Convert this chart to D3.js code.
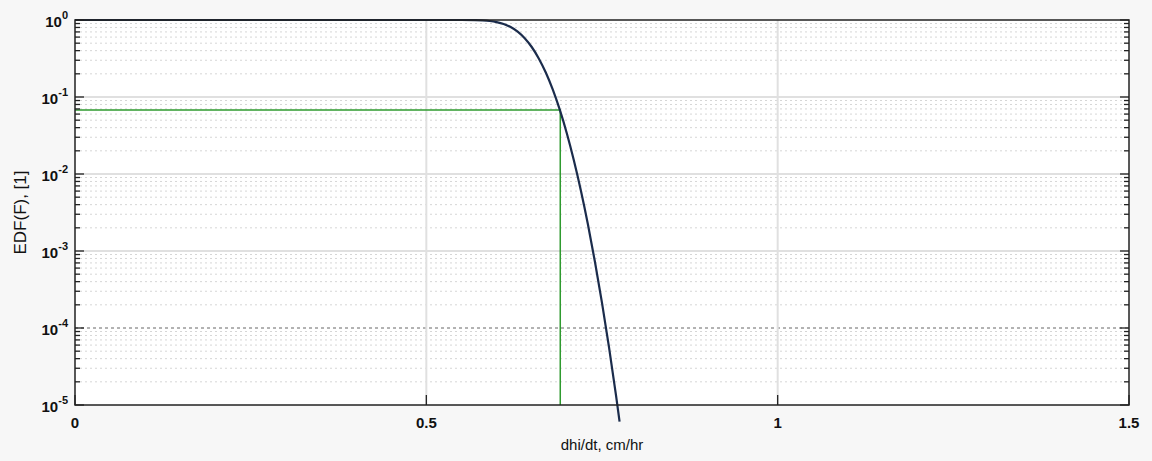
<!DOCTYPE html>
<html><head><meta charset="utf-8">
<script src="https://cdn.jsdelivr.net/npm/d3@7"></script>
<style>body{margin:0;background:#f7f7f7;}svg{display:block;}</style>
</head><body>
<svg id="c" width="1152" height="461"></svg>
<script>
// data
const curveX = [0, 0.5, 0.55, 0.57, 0.58, 0.59, 0.60, 0.61, 0.62, 0.63, 0.64, 0.65, 0.66, 0.67, 0.68, 0.69, 0.70, 0.71, 0.72, 0.73, 0.74, 0.75, 0.76, 0.77, 0.775];
const curveY = [1, 1, 0.9994, 0.995, 0.987, 0.971, 0.940, 0.889, 0.811, 0.706, 0.580, 0.446, 0.317, 0.208, 0.1245, 0.0679, 0.0336, 0.0150, 0.00607, 0.00221, 0.00072, 0.000212, 0.000056, 0.0000132, 0.0000061];
const markX = 0.6906;
const markY = 0.0678;
const xTicks = [0, 0.5, 1, 1.5];
const xTickLabels = ["0", "0.5", "1", "1.5"];
const yDecades = [0, -1, -2, -3, -4, -5];
const xLabel = "dhi/dt, cm/hr";
const yLabel = "EDF(F), [1]";

const svg = d3.select("#c");
const L = 75, R = 1129, T = 20, B = 405;
const x = d3.scaleLinear().domain([0, 1.5]).range([L, R]);
const y = d3.scaleLog().domain([1e-5, 1]).range([B, T]);

svg.append("rect").attr("x", 0).attr("y", 0).attr("width", 1152).attr("height", 461).attr("fill", "#f7f7f7");
svg.append("rect").attr("x", L).attr("y", T).attr("width", R - L).attr("height", B - T).attr("fill", "#fff");

// minor y grid
const minors = [];
yDecades.slice(1).forEach(d => { for (let k = 2; k <= 9; k++) minors.push(k * Math.pow(10, d)); });
const g = svg.append("g");
g.selectAll(".ymin").data(minors).join("line")
  .attr("x1", L).attr("x2", R).attr("y1", d => y(d)).attr("y2", d => y(d))
  .attr("stroke", "#d6d6d6").attr("stroke-width", 1).attr("stroke-dasharray", "2,3");
// major y grid
g.selectAll(".ymaj").data(yDecades.slice(1, -1)).join("line")
  .attr("x1", L).attr("x2", R).attr("y1", d => y(Math.pow(10, d))).attr("y2", d => y(Math.pow(10, d)))
  .attr("stroke", d => d === -4 ? "#666" : "#e0e0e0")
  .attr("stroke-width", d => d === -4 ? 1 : 2)
  .attr("stroke-dasharray", d => d === -4 ? "3,3" : null);
// major x grid
g.selectAll(".xmaj").data(xTicks.slice(1, -1)).join("line")
  .attr("x1", d => x(d)).attr("x2", d => x(d)).attr("y1", T).attr("y2", B)
  .attr("stroke", "#e0e0e0").attr("stroke-width", 2);

// green marker lines
svg.append("path")
  .attr("d", d3.line()([[x(0), y(markY)], [x(markX), y(markY)], [x(markX), y(1e-5)]]))
  .attr("fill", "none").attr("stroke", "#2f9a2f").attr("stroke-width", 1.5);

// curve
const pts = curveX.map((v, i) => [v, curveY[i]]);
svg.append("path")
  .attr("d", d3.line().x(d => x(d[0])).y(d => y(d[1])).curve(d3.curveMonotoneX)(pts))
  .attr("fill", "none").attr("stroke", "#1b2c4c").attr("stroke-width", 2.2);

// ticks
const tk = svg.append("g").attr("stroke", "#222").attr("stroke-width", 1.3);
const allY = yDecades.map(d => Math.pow(10, d));
[L, R].forEach((xx, side) => {
  const dir = side === 0 ? 1 : -1;
  tk.selectAll(null).data(allY).join("line")
    .attr("x1", xx).attr("x2", xx + dir * 9).attr("y1", d => y(d)).attr("y2", d => y(d));
  tk.selectAll(null).data(minors).join("line")
    .attr("x1", xx).attr("x2", xx + dir * 5).attr("y1", d => y(d)).attr("y2", d => y(d));
});
tk.selectAll(null).data(xTicks).join("line")
  .attr("x1", d => x(d)).attr("x2", d => x(d)).attr("y1", B).attr("y2", B - 10);

// box
svg.append("rect").attr("x", L).attr("y", T).attr("width", R - L).attr("height", B - T)
  .attr("fill", "none").attr("stroke", "#222").attr("stroke-width", 1.5);

const font = "Liberation Sans, Arial, Helvetica, sans-serif";
// y tick labels
const yl = svg.append("g").attr("font-family", font).attr("fill", "#111").attr("font-weight", "bold");
yDecades.forEach(d => {
  const t = yl.append("text").attr("x", 68).attr("y", y(Math.pow(10, d)) + 7).attr("text-anchor", "end");
  t.append("tspan").attr("font-size", 15).text("10");
  t.append("tspan").attr("font-size", 11).attr("dy", -8).text(String(d));
});
// x tick labels
svg.append("g").attr("font-family", font).attr("font-size", 15).attr("font-weight", "bold").attr("fill", "#111")
  .selectAll("text").data(xTicks).join("text")
  .attr("x", d => x(d)).attr("y", 428).attr("text-anchor", "middle")
  .text((d, i) => xTickLabels[i]);
// axis labels
svg.append("text").attr("x", x(0.75)).attr("y", 450).attr("text-anchor", "middle")
  .attr("font-family", font).attr("font-size", 15).attr("fill", "#111").text(xLabel);
svg.append("text").attr("transform", "translate(26," + ((T + B) / 2) + ") rotate(-90)")
  .attr("text-anchor", "middle").attr("font-family", font).attr("font-size", 17).attr("fill", "#111").text(yLabel);
</script>
</body></html>
